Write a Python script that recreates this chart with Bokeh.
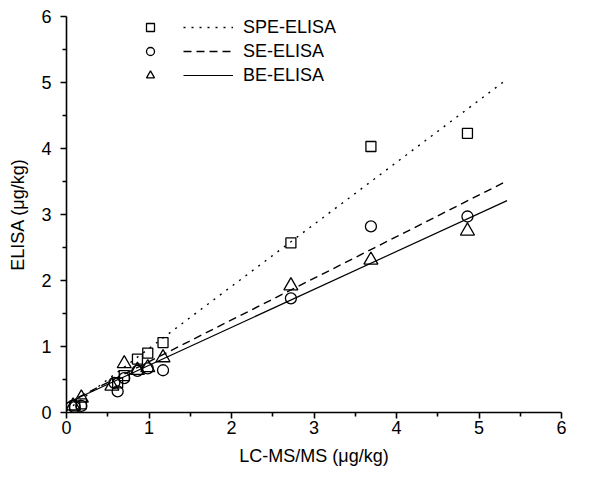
from bokeh.plotting import figure
from bokeh.models import Range1d, Legend, LegendItem, FixedTicker
from bokeh.embed import file_html
from bokeh.resources import INLINE

# LC-MS/MS reference values (x) and ELISA values (y)
spe_x = [0.10, 0.18, 0.62, 0.70, 0.86, 0.985, 1.17, 2.72, 3.69, 4.86]
spe_y = [0.10, 0.13, 0.45, 0.56, 0.81, 0.90, 1.06, 2.57, 4.03, 4.23]

se_x = [0.10, 0.18, 0.58, 0.62, 0.70, 0.86, 0.985, 1.17, 2.72, 3.69, 4.86]
se_y = [0.08, 0.10, 0.45, 0.32, 0.52, 0.63, 0.67, 0.64, 1.73, 2.82, 2.97]

be_x = [0.08, 0.18, 0.55, 0.70, 0.86, 0.985, 1.17, 2.72, 3.69, 4.86]
be_y = [0.10, 0.22, 0.40, 0.74, 0.64, 0.68, 0.83, 1.92, 2.31, 2.75]

# regression lines: slope, intercept, x range
fit_range = [0.0, 5.34]
spe_fit = (0.940, 0.03)
se_fit = (0.631, 0.14)
be_fit = (0.575, 0.14)

labels = ["SPE-ELISA", "SE-ELISA", "BE-ELISA"]
ticks = [0, 1, 2, 3, 4, 5, 6]

FONT = "Liberation Sans"

p = figure(width=590, height=468, output_backend="svg", toolbar_location=None,
           x_range=Range1d(0, 6), y_range=Range1d(0, 6),
           min_border_left=66, min_border_right=29, min_border_top=16, min_border_bottom=40)
p.outline_line_color = None
p.xgrid.visible = False
p.ygrid.visible = False
p.background_fill_color = "white"
p.border_fill_color = "white"

for ax in (p.xaxis[0], p.yaxis[0]):
    ax.ticker = FixedTicker(ticks=ticks, minor_ticks=[t + 0.5 for t in ticks[:-1]])
    ax.axis_line_width = 1.6
    ax.axis_line_color = "black"
    ax.major_tick_line_width = 1.6
    ax.minor_tick_line_width = 1.6
    ax.major_tick_in = 0
    ax.major_tick_out = 6
    ax.minor_tick_in = 0
    ax.minor_tick_out = 4
    ax.major_label_text_font = FONT
    ax.major_label_text_font_size = "18px"
    ax.major_label_text_color = "black"
    ax.axis_label_text_font = FONT
    ax.axis_label_text_font_size = "18px"
    ax.axis_label_text_font_style = "normal"
    ax.axis_label_text_color = "black"

p.xaxis[0].axis_label = "LC-MS/MS (\u03bcg/kg)"
p.yaxis[0].axis_label = "ELISA (\u03bcg/kg)"
p.xaxis[0].major_label_standoff = 2
p.yaxis[0].major_label_standoff = 9
p.xaxis[0].axis_label_standoff = 9
p.yaxis[0].axis_label_standoff = 10

def fit_line(fit):
    s, b = fit
    return [s * x + b for x in fit_range]

l1 = p.line(fit_range, fit_line(spe_fit), line_color="black", line_width=1.4, line_dash="2 6")
l2 = p.line(fit_range, fit_line(se_fit), line_color="black", line_width=1.4, line_dash="8 5")
l3 = p.line(fit_range, fit_line(be_fit), line_color="black", line_width=1.2)

m1 = p.scatter(spe_x, spe_y, marker="square", size=10, fill_alpha=0, line_color="black", line_width=1.3)
m2 = p.scatter(se_x, se_y, marker="circle", size=11, fill_alpha=0, line_color="black", line_width=1.3)
m3 = p.scatter(be_x, be_y, marker="triangle", size=14, fill_alpha=0, line_color="black", line_width=1.3)

common = dict(padding=0, spacing=0, margin=0, border_line_alpha=0, background_fill_alpha=0,
              label_height=24, glyph_height=24, label_text_font=FONT, label_text_font_size="18px",
              label_text_color="black")

leg_m = Legend(items=[LegendItem(label="", renderers=[m]) for m in (m1, m2, m3)],
               location=(74, 325), glyph_width=20, label_width=0, label_standoff=0, **common)
leg_l = Legend(items=[LegendItem(label=t, renderers=[r]) for t, r in zip(labels, (l1, l2, l3))],
               location=(117, 325), glyph_width=50, label_standoff=10, **common)
p.add_layout(leg_m)
p.add_layout(leg_l)

open("out.html", "w").write(file_html(p, INLINE))
